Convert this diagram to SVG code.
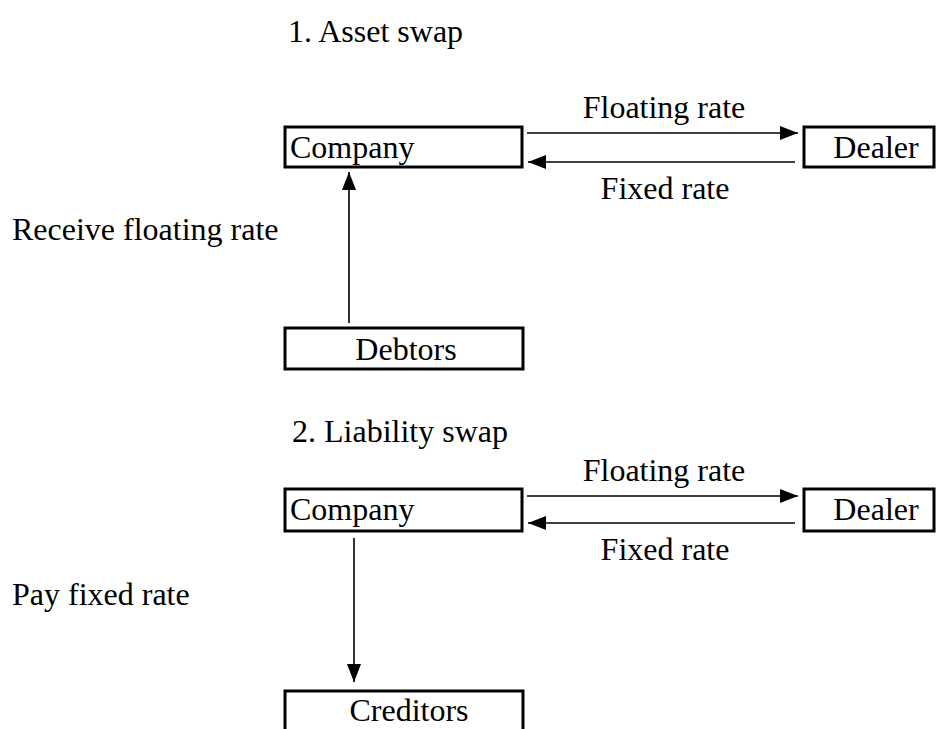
<svg xmlns="http://www.w3.org/2000/svg" width="936" height="729" viewBox="0 0 936 729">
<style>
text{font-family:"Liberation Serif","Times New Roman",serif;font-size:32px;fill:#000}
.box{fill:#fff;stroke:#000;stroke-width:3}
.ln{stroke:#000;stroke-width:1.6;fill:none}
</style>
<defs>
<marker id="ahL" viewBox="0 0 18 14" refX="18" refY="7" markerWidth="18" markerHeight="14" markerUnits="userSpaceOnUse" orient="auto">
<path d="M0,0 L18,7 L0,14 Z" fill="#000"/>
</marker>
</defs>
<text x="288" y="42">1. Asset swap</text>
<text x="12" y="240">Receive floating rate</text>
<text x="292" y="442">2. Liability swap</text>
<text x="12" y="605">Pay fixed rate</text>
<g id="company1"><rect class="box" x="285" y="127" width="237" height="40"/><text x="290" y="158">Company</text></g>
<g id="dealer1"><rect class="box" x="804" y="127" width="130" height="40"/><text x="876" y="158" text-anchor="middle">Dealer</text></g>
<g id="debtors"><rect class="box" x="285" y="328" width="238" height="41"/><text x="406" y="360" text-anchor="middle">Debtors</text></g>
<g id="company2"><rect class="box" x="285" y="489" width="237" height="42"/><text x="290" y="520">Company</text></g>
<g id="dealer2"><rect class="box" x="804" y="489" width="130" height="42"/><text x="876" y="520" text-anchor="middle">Dealer</text></g>
<g id="creditors"><rect class="box" x="285" y="691" width="238" height="45"/><text x="409" y="721" text-anchor="middle">Creditors</text></g>
<g id="connectors">
<line class="ln" x1="527" y1="133" x2="798" y2="133" marker-end="url(#ahL)"/>
<text x="664" y="118" text-anchor="middle">Floating rate</text>
<line class="ln" x1="795" y1="162" x2="528" y2="162" marker-end="url(#ahL)"/>
<text x="665" y="199" text-anchor="middle">Fixed rate</text>
<line class="ln" x1="349" y1="323" x2="349" y2="172" marker-end="url(#ahL)"/>
<line class="ln" x1="527" y1="496" x2="798" y2="496" marker-end="url(#ahL)"/>
<text x="664" y="481" text-anchor="middle">Floating rate</text>
<line class="ln" x1="795" y1="523" x2="528" y2="523" marker-end="url(#ahL)"/>
<text x="665" y="560" text-anchor="middle">Fixed rate</text>
<line class="ln" x1="354" y1="538" x2="354" y2="682" marker-end="url(#ahL)"/>
</g>
</svg>
